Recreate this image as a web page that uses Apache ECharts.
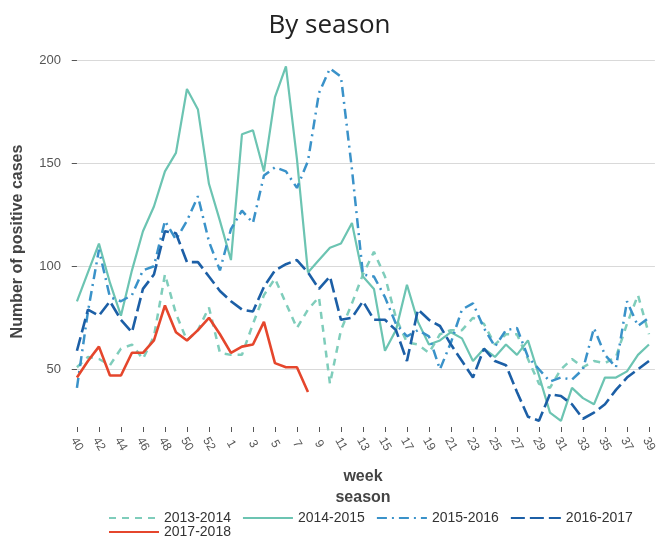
<!DOCTYPE html>
<html><head><meta charset="utf-8">
<script src="https://cdn.jsdelivr.net/npm/echarts@6/dist/echarts.min.js"></script>
<style>html,body{margin:0;padding:0;background:#fff}#c{width:659px;height:538px}</style>
</head><body><div id="c"></div>
<script>
const weeks = ['40','41','42','43','44','45','46','47','48','49','50','51','52','53',
  '1','2','3','4','5','6','7','8','9','10','11','12','13','14','15','16','17','18','19','20',
  '21','22','23','24','25','26','27','28','29','30','31','32','33','34','35','36','37','38','39'];
const weekLabelIdx = [0,2,4,6,8,10,12,14,16,18,20,22,24,26,28,30,32,34,36,38,40,42,44,46,48,50,52];
const yTicks = [50, 100, 150, 200];
const seasonNames = ['2013-2014','2014-2015','2015-2016','2016-2017','2017-2018'];
const s2013 = [51,56,55,52,60,62,55,66,96,77,64,69,80,58,57,57,72,86,94,82,70,79,85,43,69,82,96,107,95,75,63,62,58,67,69,69,75,72,62,67,67,55,43,41,50,55,51,54,53,56,72,86,67];
const s2014 = [83,97,111,92,76,98,117,129,146,155,186,176,140,122,103,164,166,146,182,197,152,97,103,109,111,121,95,89,59,69,91,73,62,64,68,65,54,60,56,62,57,64,47,29,25,41,36,33,46,46,49,57,62];
const s2015 = [41,78,108,85,83,86,98,100,122,113,122,134,112,98,118,127,121,144,148,146,138,151,184,196,192,147,96,95,85,72,66,69,66,50,63,79,82,70,61,69,70,56,50,44,46,45,50,70,57,51,83,71,75];
const s2016 = [59,79,76,83,74,68,89,96,117,116,102,102,95,88,83,79,78,90,98,101,103,97,89,95,74,75,83,74,74,69,54,79,74,71,62,54,46,60,54,52,39,27,25,38,37,33,26,29,33,40,46,50,54];
const s2017 = [46,54,61,47,47,58,58,64,81,68,64,69,75,67,58,61,62,73,53,51,51,39];

const font = 'Liberation Sans';
const chart = echarts.init(document.getElementById('c'), null, {renderer:'canvas'});
const styles = [
  {color:'#7fcdbb', width:2.5, type:[7,6]},
  {color:'#6cc4b2', width:2.2, type:'solid'},
  {color:'#3a92c9', width:2.5, type:[10,5,2,5]},
  {color:'#1c5fa6', width:2.6, type:[14,5]},
  {color:'#e5462c', width:2.6, type:'solid'}
];
const dataSets = [s2013, s2014, s2015, s2016, s2017];
const legendCommon = {itemWidth:50, itemHeight:10, itemGap:11,
  itemStyle:{opacity:0},
  textStyle:{fontSize:14, color:'#333', fontFamily:font}};
chart.setOption({
  animation:false,
  textStyle:{fontFamily:font},
  title:{text:'By season', left:'center', top:8,
    textStyle:{fontFamily:'Open Sans', fontSize:26, fontWeight:'normal', color:'#222'}},
  graphic:[{type:'text', x:363, y:490, style:{text:'season', textAlign:'center',
    font:'bold 16px "Liberation Sans"', fill:'#444'}}],
  legend:[
    Object.assign({data:seasonNames.slice(0,4), left:103, top:506}, legendCommon),
    Object.assign({data:seasonNames.slice(4), left:103, top:520}, legendCommon)
  ],
  grid:{left:71, right:0, top:56, bottom:111},
  xAxis:{type:'value', min:-0.54, max:52.54,
    name:'week', nameLocation:'middle', nameGap:42,
    nameTextStyle:{fontWeight:'bold', fontSize:16, color:'#444', fontFamily:font},
    axisLine:{show:false},
    axisTick:{show:true, length:5, customValues:weekLabelIdx, lineStyle:{color:'#555'}},
    axisLabel:{customValues:weekLabelIdx, formatter:(v)=>weeks[Math.round(v)],
      rotate:-60, align:'center', verticalAlign:'middle', margin:17,
      fontSize:12, color:'#555', fontFamily:font},
    splitLine:{show:false}},
  yAxis:{type:'value', min:22, max:202,
    name:'Number of positive cases', nameLocation:'middle', nameGap:45,
    nameTextStyle:{fontWeight:'bold', fontSize:16, color:'#444', fontFamily:font},
    axisLine:{show:false},
    axisTick:{show:true, length:5, customValues:yTicks, lineStyle:{color:'#555'}},
    axisLabel:{customValues:yTicks, margin:10, fontSize:13, color:'#555', fontFamily:font},
    splitLine:{show:true, lineStyle:{color:'#d9d9d9', width:1.2}}},
  series: dataSets.map((d,i)=>({
    name:seasonNames[i], type:'line', data:d.map((v,j)=>[j,v]), symbol:'none',
    lineStyle:{color:styles[i].color, width:styles[i].width, type:styles[i].type},
    itemStyle:{color:styles[i].color}
  }))
});
</script></body></html>
